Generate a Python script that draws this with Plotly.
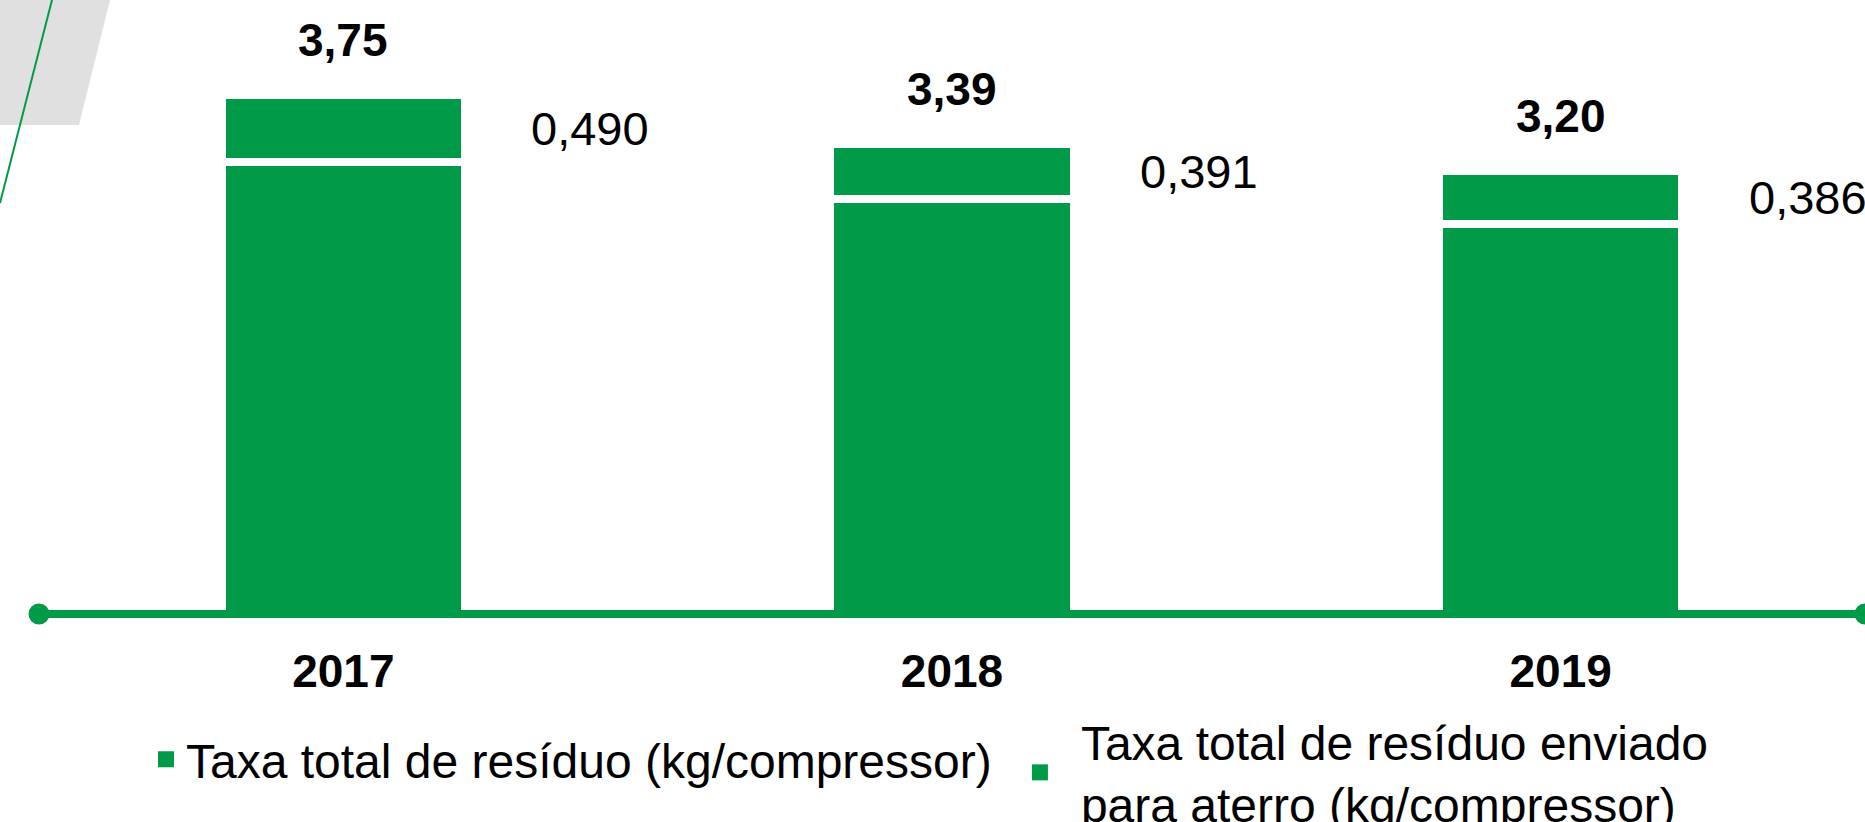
import plotly.graph_objects as go

# ---- data ----
years = ["2017", "2018", "2019"]
total_waste = [3.75, 3.39, 3.20]          # Taxa total de resíduo (kg/compressor)
landfill_waste = [0.490, 0.391, 0.386]    # enviado para aterro (kg/compressor)
series_names = [
    "Taxa total de resíduo (kg/compressor)",
    "Taxa total de resíduo enviado<br>para aterro (kg/compressor)",
]

# ---- style ----
GREEN = "#009A49"
GREY = "#E0E0E0"
FONT = "Liberation Sans, Arial, sans-serif"
W, H = 1865, 822
ML, MR, MT, MB = 39, 0, 0, 208
PX_PER_UNIT = 138.5
plot_w = W - ML - MR
plot_h = H - MT - MB


def px_to_paper(px, py):
    return (px - ML) / plot_w, (H - MB - py) / plot_h


lower = [t - l for t, l in zip(total_waste, landfill_waste)]

fig = go.Figure()
fig.add_trace(go.Bar(
    x=years, y=lower, name=series_names[0], showlegend=False,
    marker=dict(color=GREEN, line=dict(color="white", width=8)),
    hoverinfo="skip",
))
fig.add_trace(go.Bar(
    x=years, y=landfill_waste, name=series_names[1], showlegend=False,
    marker=dict(color=GREEN, line=dict(color="white", width=8)),
    hoverinfo="skip",
))
# legend entries (one per legend so each can be placed like the reference)
for nm, lg in zip(series_names, ["legend", "legend2"]):
    fig.add_trace(go.Scatter(
        x=[None], y=[None], mode="markers", name=nm, legend=lg,
        marker=dict(symbol="square", size=16, color=GREEN, line=dict(width=0)),
    ))

# value labels (category axes take the category index as position)
for i, t in enumerate(total_waste):
    fig.add_annotation(
        x=i, y=t, xref="x", yref="y", text="<b>" + f"{t:.2f}".replace(".", ",") + "</b>",
        showarrow=False, yanchor="middle", yshift=55,
        font=dict(family=FONT, size=46, color="black"),
    )
for i, (t, l) in enumerate(zip(total_waste, landfill_waste)):
    fig.add_annotation(
        x=i, y=t - l / 2, xref="x", yref="y", text=f"{l:.3f}".replace(".", ","),
        showarrow=False, xanchor="left", yanchor="middle", xshift=186,
        font=dict(family=FONT, size=47, color="black"),
    )

# decorative grey parallelogram and green diagonal at top-left
p = [px_to_paper(0, 0), px_to_paper(110, 0), px_to_paper(79, 125), px_to_paper(0, 125)]
path = "M " + " L ".join(f"{x:.5f},{y:.5f}" for x, y in p) + " Z"
fig.add_shape(type="path", xref="paper", yref="paper", path=path,
              fillcolor=GREY, line=dict(width=0), layer="below")
a = px_to_paper(52, 0)
b = px_to_paper(0, 203)
fig.add_shape(type="line", xref="paper", yref="paper", x0=a[0], y0=a[1], x1=b[0], y1=b[1],
              line=dict(color=GREEN, width=2))
# baseline with dots at both ends
fig.add_shape(type="line", xref="paper", yref="paper", x0=0, x1=1, y0=0, y1=0,
              line=dict(color=GREEN, width=8), layer="above")
R = 10.5
for xp in (0.0, 1.0):
    fig.add_shape(type="circle", xref="paper", yref="paper",
                  x0=xp - R / plot_w, x1=xp + R / plot_w, y0=-R / plot_h, y1=R / plot_h,
                  fillcolor=GREEN, line=dict(width=0), layer="above")

legend_common = dict(orientation="h", xanchor="left", yanchor="top",
                     font=dict(family=FONT, size=48, color="black"), itemsizing="trace",
                     bgcolor="rgba(0,0,0,0)", valign="middle")
fig.update_layout(
    width=W, height=H,
    margin=dict(l=ML, r=MR, t=MT, b=MB, autoexpand=False),
    paper_bgcolor="white", plot_bgcolor="white",
    barmode="stack", bargap=0.6,
    font=dict(family=FONT, color="black"),
    xaxis=dict(type="category", range=[-0.5, 2.5], showgrid=False, zeroline=False,
               showline=False, ticks="", ticklabelstandoff=26,
               tickvals=years, ticktext=["<b>" + y + "</b>" for y in years],
               tickfont=dict(family=FONT, size=46, color="black"),
               fixedrange=True, automargin=False),
    yaxis=dict(range=[0, plot_h / PX_PER_UNIT], visible=False, fixedrange=True),
    showlegend=True,
    legend=dict(x=0.0586, y=-0.175, **legend_common),
    legend2=dict(x=0.5257, y=-0.1457, itemwidth=72, **legend_common),
)

fig.write_html("out.html", config={"displayModeBar": False},
               post_script="document.body.style.margin='0';")
